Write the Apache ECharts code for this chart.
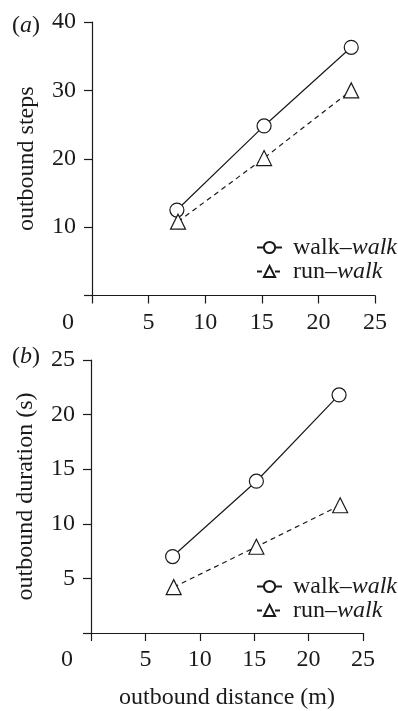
<!DOCTYPE html>
<html><head><meta charset="utf-8">
<script src="https://cdn.jsdelivr.net/npm/echarts@6/dist/echarts.min.js"></script>
<style>html,body{margin:0;padding:0;background:#fff}#c{width:398px;height:711px}</style>
</head><body><div id="c"></div>
<script>
// Data
const seriesNames = ['walk–walk', 'run–walk'];
const stepsWalk = [[7.5, 12.5], [15.2, 24.8], [22.9, 36.3]];
const stepsRun = [[7.6, 10.8], [15.2, 20.1], [22.9, 30.0]];
const durWalk = [[7.5, 7.0], [15.2, 13.9], [22.8, 21.8]];
const durRun = [[7.6, 4.2], [15.2, 7.9], [22.9, 11.7]];
const xTicks = [0, 5, 10, 15, 20, 25];
const panelLabels = ['a', 'b'];

const FONT = 'Liberation Serif';
const INK = '#1a1a1a';
const FS = 24;

function xAxis(gi, name) {
  return {
    type: 'value', gridIndex: gi, min: 0, max: 25, interval: 5,
    axisLine: { show: true, onZero: false, lineStyle: { color: INK, width: 1.2 } },
    axisTick: { show: true, inside: false, length: 8, lineStyle: { color: INK, width: 1.2 } },
    splitLine: { show: false },
    axisLabel: {
      color: INK, fontFamily: FONT, fontSize: FS, margin: 15,
      formatter: v => v === 0 ? '{z|0}' : String(v),
      rich: { z: { fontFamily: FONT, fontSize: FS, color: INK, padding: [0, 48, 0, 0] } }
    },
    name: name || '', nameLocation: 'middle', nameGap: 53,
    nameTextStyle: { color: INK, fontFamily: FONT, fontSize: FS }
  };
}
function yAxis(gi, max, interval, name) {
  return {
    type: 'value', gridIndex: gi, min: 0, max: max, interval: interval,
    axisLine: { show: true, onZero: false, lineStyle: { color: INK, width: 1.2 } },
    axisTick: { show: true, inside: false, length: 8, lineStyle: { color: INK, width: 1.2 } },
    splitLine: { show: false },
    axisLabel: { color: INK, fontFamily: FONT, fontSize: FS, margin: 16,
      formatter: v => v === 0 ? '' : String(v) },
    name: name, nameLocation: 'middle', nameGap: 53, nameRotate: 90,
    nameTextStyle: { color: INK, fontFamily: FONT, fontSize: FS }
  };
}
function ser(name, gi, data, dashed, symbol) {
  return {
    type: 'line', name: name, xAxisIndex: gi, yAxisIndex: gi, data: data,
    symbol: symbol, symbolSize: symbol === 'circle' ? 14 : 15,
    lineStyle: { color: INK, width: 1.2, type: dashed ? [5, 4] : 'solid' },
    itemStyle: { color: '#fff', borderColor: INK, borderWidth: 1.2 },
    z: 3
  };
}
const legendRich = {
  n: { fontFamily: FONT, fontSize: FS, color: INK, fontWeight: 'normal', lineHeight: 21 },
  i: { fontFamily: FONT, fontSize: FS, color: INK, fontStyle: 'italic', fontWeight: 'normal', lineHeight: 21 }
};
function legend(top) {
  return {
    top: top, right: 1, padding: 0, orient: 'vertical', itemGap: 0, itemWidth: 25, itemHeight: 14,
    data: seriesNames,
    formatter: n => { const p = n.split('–'); return '{n|' + p[0] + '–}{i|' + p[1] + '}'; },
    textStyle: { rich: legendRich, fontFamily: FONT, fontSize: FS, color: INK, lineHeight: 21, padding: [0, 0, 0, 6] }
  };
}

const option = {
  backgroundColor: '#fff',
  animation: false,
  title: panelLabels.map((l, i) => ({
    text: '{n|(}{i|' + l + '}{n|)}', left: 7, top: i === 0 ? 10 : 341,
    textStyle: { rich: legendRich, fontWeight: 'normal' }
  })),
  grid: [
    { left: 92, top: 22, right: 23, bottom: 415.5 },
    { left: 91, top: 360, right: 35, bottom: 77.7 }
  ],
  xAxis: [xAxis(0), xAxis(1, 'outbound distance (m)')],
  yAxis: [yAxis(0, 40, 10, 'outbound steps'), yAxis(1, 25, 5, 'outbound duration (s)')],
  legend: [legend(235.5), legend(574.5)],
  series: [
    ser(seriesNames[0], 0, stepsWalk, false, 'circle'),
    ser(seriesNames[1], 0, stepsRun, true, 'triangle'),
    ser(seriesNames[0], 1, durWalk, false, 'circle'),
    ser(seriesNames[1], 1, durRun, true, 'triangle')
  ]
};
const chart = echarts.init(document.getElementById('c'), null, { renderer: 'canvas' });
chart.setOption(option);
</script></body></html>
